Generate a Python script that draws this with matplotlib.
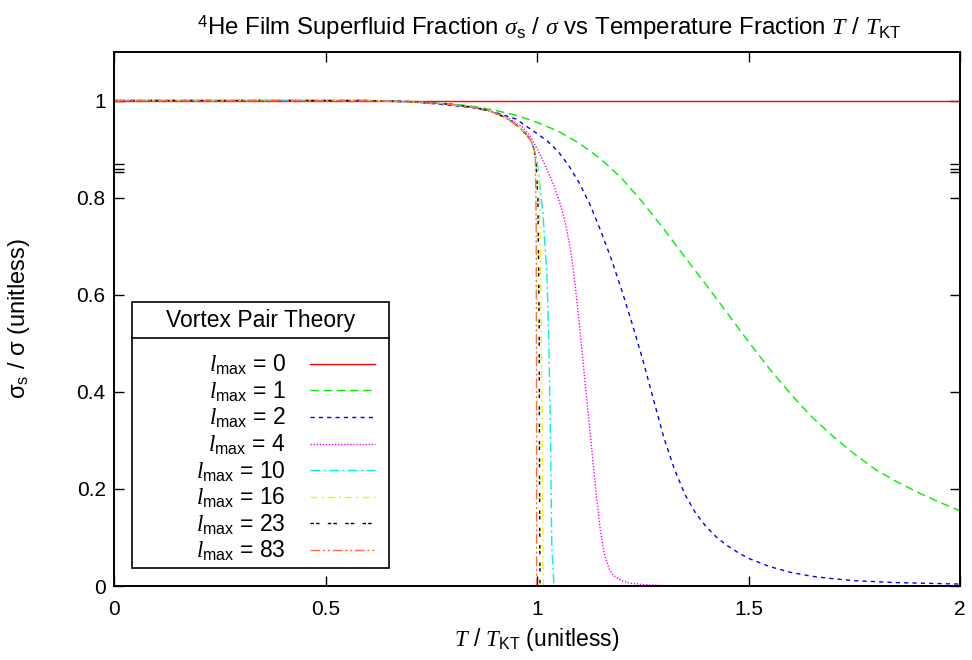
import matplotlib
matplotlib.use("Agg")
import matplotlib.pyplot as plt
from matplotlib.patches import Rectangle

plt.rcParams["font.family"] = ["Liberation Sans", "DejaVu Sans"]
plt.rcParams["mathtext.fontset"] = "custom"
plt.rcParams["mathtext.rm"] = "Liberation Sans"
plt.rcParams["mathtext.it"] = "Liberation Serif:italic"
plt.rcParams["mathtext.bf"] = "Liberation Sans:bold"
plt.rcParams["mathtext.sf"] = "Liberation Sans"

# values
x_l0 = [0.0, 2.0]
y_l0 = [1.0, 1.0]

x_l1 = [0.0, 0.6, 0.70, 0.80, 0.85, 0.90, 0.95, 1.00, 1.05, 1.10, 1.15, 1.20, 1.25, 1.30, 1.35, 1.40,
        1.45, 1.50, 1.55, 1.60, 1.65, 1.70, 1.75, 1.80, 1.85, 1.90, 1.95, 2.0]
y_l1 = [1.0, 1.0, 0.998, 0.993, 0.988, 0.980, 0.970, 0.955, 0.937, 0.912, 0.880, 0.840, 0.790, 0.735,
        0.677, 0.620, 0.562, 0.503, 0.447, 0.395, 0.348, 0.308, 0.272, 0.240, 0.215, 0.193, 0.173, 0.155]

x_l2 = [0.0, 0.6, 0.70, 0.80, 0.85, 0.90, 0.95, 1.00, 1.025, 1.05, 1.075, 1.10, 1.125, 1.15, 1.175, 1.20,
        1.225, 1.25, 1.275, 1.30, 1.325, 1.35, 1.375, 1.40, 1.425, 1.45, 1.475, 1.50, 1.55, 1.60, 1.65,
        1.70, 1.75, 1.80, 1.85, 1.90, 2.0]
y_l2 = [1.0, 1.0, 0.998, 0.990, 0.985, 0.976, 0.962, 0.932, 0.916, 0.895, 0.866, 0.830, 0.786, 0.733,
        0.675, 0.610, 0.540, 0.466, 0.385, 0.305, 0.240, 0.188, 0.150, 0.122, 0.100, 0.083, 0.069, 0.057,
        0.040, 0.028, 0.020, 0.015, 0.011, 0.009, 0.007, 0.006, 0.004]

x_l4 = [0.0, 0.6, 0.70, 0.80, 0.87, 0.93, 0.965, 0.985, 1.00, 1.02, 1.04, 1.06, 1.07, 1.08, 1.09, 1.10,
        1.11, 1.12, 1.13, 1.14, 1.15, 1.16, 1.17, 1.18, 1.20, 1.22, 1.25, 1.30, 1.35, 2.0]
y_l4 = [1.0, 1.0, 0.997, 0.992, 0.984, 0.965, 0.946, 0.925, 0.901, 0.865, 0.825, 0.772, 0.735, 0.688,
        0.622, 0.540, 0.452, 0.364, 0.276, 0.188, 0.112, 0.064, 0.036, 0.022, 0.011, 0.006, 0.003, 0.001,
        0.0, 0.0]

x_l10 = [0.0, 0.6, 0.65, 0.70, 0.75, 0.80, 0.85, 0.89, 0.92, 0.94, 0.96, 0.975, 0.985, 0.993, 1.000,
         1.006, 1.014, 1.024, 1.028, 1.031, 1.033, 1.035, 1.040]
y_l10 = [1.0, 1.0, 0.999, 0.997, 0.995, 0.992, 0.986, 0.978, 0.967, 0.957, 0.943, 0.930, 0.918, 0.900,
         0.877, 0.830, 0.767, 0.630, 0.492, 0.356, 0.218, 0.080, 0.0]

x_l16 = [0.0, 0.6, 0.65, 0.70, 0.75, 0.80, 0.85, 0.89, 0.92, 0.94, 0.96, 0.975, 0.985, 0.992, 0.998,
         1.005, 1.009, 1.012, 1.014, 1.015]
y_l16 = [1.0, 1.0, 0.999, 0.997, 0.995, 0.992, 0.986, 0.978, 0.967, 0.957, 0.943, 0.930, 0.918, 0.902,
         0.877, 0.835, 0.630, 0.356, 0.050, 0.0]

x_l23 = [0.0, 0.6, 0.65, 0.70, 0.75, 0.80, 0.85, 0.89, 0.92, 0.94, 0.96, 0.975, 0.985, 0.992, 0.997,
         1.002, 1.005, 1.006, 1.007]
y_l23 = [1.0, 1.0, 0.999, 0.997, 0.995, 0.992, 0.986, 0.978, 0.967, 0.957, 0.943, 0.930, 0.918, 0.902,
         0.880, 0.800, 0.550, 0.200, 0.0]

x_l83 = [0.0, 0.6, 0.65, 0.70, 0.75, 0.80, 0.85, 0.89, 0.92, 0.94, 0.96, 0.975, 0.985, 0.992, 0.996,
         0.998, 0.999, 0.999]
y_l83 = [1.0, 1.0, 0.999, 0.997, 0.995, 0.992, 0.986, 0.978, 0.967, 0.957, 0.943, 0.930, 0.918, 0.902,
         0.885, 0.750, 0.300, 0.0]

l_max = ["0", "1", "2", "4", "10", "16", "23", "83"]
series_x = [x_l0, x_l1, x_l2, x_l4, x_l10, x_l16, x_l23, x_l83]
series_y = [y_l0, y_l1, y_l2, y_l4, y_l10, y_l16, y_l23, y_l83]
colors = ["#ff0000", "#00ee00", "#0000ff", "#ff00ff", "#00eeee", "#f2f200", "#000000", "#ff6f3f"]
dashes = ["-", (0, (6, 3.5)), (0, (3, 3)), (0, (1, 1.2)), (0, (7, 2.5, 1.5, 2.5)),
          (0, (5, 3, 1.5, 3)), (0, (2.5, 1.5, 2.5, 6)), (0, (7, 2, 1.5, 2, 1.5, 2))]

x_ticks = [0, 0.5, 1, 1.5, 2]
x_tick_labels = ["0", "0.5", "1", "1.5", "2"]
y_ticks = [0, 0.2, 0.4, 0.6, 0.8, 1.0]
y_tick_labels = ["0", "0.2", "0.4", "0.6", "0.8", "1"]
y_break = [0.852, 0.858, 0.870]

FS = 16.5

fig = plt.figure(figsize=(9.72, 6.6), dpi=100)
ax = fig.add_axes([0.1173, 0.1121, 0.8704, 0.8091])

lines = []
for xs, ys, c, d in zip(series_x, series_y, colors, dashes):
    (ln,) = ax.plot(xs, ys, color=c, lw=1.0, linestyle=d)
    lines.append(ln)

ax.set_xlim(0, 2)
ax.set_ylim(0, 1.1)
ax.set_xticks(x_ticks)
ax.set_xticklabels(x_tick_labels)
ax.set_yticks(y_ticks)
ax.set_yticklabels(y_tick_labels)
ax.set_yticks(y_break, minor=True)
ax.tick_params(which="both", direction="in", length=7, width=1, top=True, right=True, labelsize=15)
ax.tick_params(axis="x", pad=10)
ax.tick_params(axis="y", pad=6)
for sp in ax.spines.values():
    sp.set_linewidth(1.4)
    sp.set_zorder(5)

ax.set_title(r"$^{\mathrm{4}}$He Film Superfluid Fraction $\sigma_{\mathrm{s}}$ / $\sigma$ vs "
             r"Temperature Fraction $T$ / $T_{\mathrm{KT}}$", fontsize=17.3, pad=12, x=0.514)
ax.set_xlabel(r"$T$ / $T_{\mathrm{KT}}$ (unitless)", fontsize=FS)
ax.xaxis.set_label_coords(0.5, -0.075)
ax.xaxis.label.set_va("top")
ax.set_ylabel(r"σ$_{\mathrm{s}}$ / σ (unitless)", fontsize=17)
ax.yaxis.set_label_coords(-0.097, 0.5)

# legend box in the gnuplot style
ax.add_patch(Rectangle((0.0213, 0.0337), 0.3038, 0.498, transform=ax.transAxes,
                       fill=False, edgecolor="black", lw=1.2, zorder=6))
ax.plot([0.0213, 0.3251], [0.4644, 0.4644], transform=ax.transAxes, color="black", lw=1.2, zorder=6)
ax.text(0.1732, 0.498, "Vortex Pair Theory", transform=ax.transAxes, ha="center", va="center",
        fontsize=FS, zorder=6)
labels = [r"$\mathit{l}_{\mathrm{max}}$ = " + v for v in l_max]
ax.legend(lines, labels, loc="upper right", bbox_to_anchor=(0.322, 0.458), frameon=False,
          markerfirst=False, borderpad=0, handlelength=2.85, handletextpad=1.05, labelspacing=0.1,
          fontsize=FS)

fig.savefig("out.png", dpi=100)
